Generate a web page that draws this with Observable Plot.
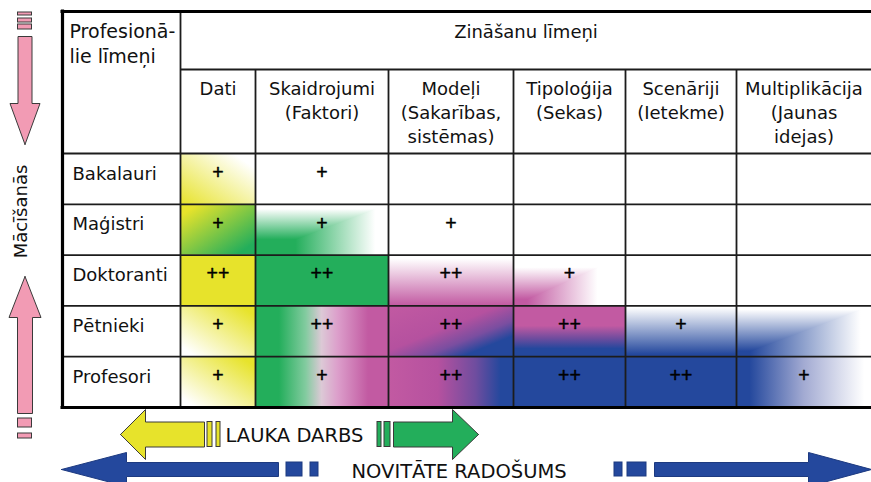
<!DOCTYPE html>
<html>
<head>
<meta charset="utf-8">
<script src="https://cdn.jsdelivr.net/npm/d3@7"></script>
<script src="https://cdn.jsdelivr.net/npm/@observablehq/plot@0.6"></script>
<style>
  html, body { margin: 0; padding: 0; background: #fff; }
  svg { display: block; }
</style>
</head>
<body>
<div id="chart"></div>
<script>
// ---------------- DATA ----------------
const professions = ["Bakalauri", "Maģistri", "Doktoranti", "Pētnieki", "Profesori"];
const knowledgeLevels = [
  ["Dati"],
  ["Skaidrojumi", "(Faktori)"],
  ["Modeļi", "(Sakarības,", "sistēmas)"],
  ["Tipoloģija", "(Sekas)"],
  ["Scenāriji", "(Ietekme)"],
  ["Multiplikācija", "(Jaunas", "idejas)"]
];
// intensity of each knowledge level per professional level
const intensity = [
  ["+",  "+",  "",   "",   "",   ""],
  ["+",  "+",  "+",  "",   "",   ""],
  ["++", "++", "++", "+",  "",   ""],
  ["+",  "++", "++", "++", "+",  ""],
  ["+",  "+",  "++", "++", "++", "+"]
];
// transition shading category of each cell
const transitions = [
  ["yFade", "",      "",       "",     "",      ""],
  ["yg",    "cG",    "",       "",     "",      ""],
  ["Y",     "G",     "mRise",  "cM",   "",      ""],
  ["yRise", "gm",    "mbDiag", "mbV",  "bRise", "cB"],
  ["yRise", "gm",    "mbH",    "B",    "B",     "bH"]
];
const cornerTitle = ["Profesionā-", "lie līmeņi"];
const tableTitle = "Zināšanu līmeņi";
const sideLabel = "Mācīšanās";
const fieldLabel = "LAUKA DARBS";
const noveltyLabel = "NOVITĀTE RADOŠUMS";

// ---------------- STYLE / LAYOUT ----------------
const C = {Y: "#E7E32B", G: "#23AE5B", M: "#C25AA2", B: "#24489D", W: "#FFFFFF", pink: "#F29BB4", line: "#1c1c1c", outline: "#3a3a3a"};
const solid = {Y: C.Y, G: C.G, B: C.B};
const gradients = {
  yFade:  {v: [0, 1, 1, 0], stops: [[0, C.Y], [0.85, C.W]]},
  yg:     {v: [0, 0, 1, 1], stops: [[0.12, C.Y], [0.88, C.G]]},
  mRise:  {v: [0, 0, 0, 1], stops: [[0, C.W], [0.08, C.W], [1, C.M]]},
  yRise:  {v: [0, 1, 1, 0], stops: [[0.1, C.W], [0.9, C.Y]]},
  gm:     {v: [0, 0, 1, 0], stops: [[0, C.G], [0.18, C.G], [0.38, "#82cb9f"], [0.5, "#dcc9d6"], [0.62, "#dc9fcb"], [0.85, C.M], [1, C.M]]},
  mbDiag: {v: [0, 0, 1, 1], stops: [[0, C.M], [0.45, "#b5519f"], [0.65, "#7a4ea0"], [0.8, C.B], [1, C.B]]},
  mbH:    {v: [0, 0, 1, 0], stops: [[0, C.M], [0.4, "#b6519f"], [0.7, "#6f4d9f"], [0.9, C.B], [1, C.B]]},
  mbV:    {v: [0, 0, 0, 1], stops: [[0, C.M], [0.4, C.M], [0.65, "#6e4c9e"], [0.85, C.B], [1, C.B]]},
  bRise:  {v: [0, 0, 0, 1], stops: [[0.04, C.W], [0.96, C.B]]},
  bH:     {v: [0, 0, 1, 0], stops: [[0, C.B], [0.1, C.B], [0.5, "#a2aad2"], [0.95, C.W]]}
};
// rectangular "from bottom-left corner" shading: vertical part + horizontal part
const corners = {
  cG: {color: C.G, stops: [[0, 1], [0.3, 1], [0.9, 0]]},
  cM: {color: C.M, stops: [[0, 1], [0.12, 1], [0.75, 0]]},
  cB: {color: C.B, stops: [[0, 1], [0.1, 1], [0.92, 0]]}
};
for (const [id, c] of Object.entries(corners)) {
  const st = c.stops.map(([o, a]) => [o, d3.interpolateRgb(C.W, c.color)(a)]);
  gradients[id + "V"] = {v: [0, 1, 0, 0], stops: st};
  gradients[id + "H"] = {v: [0, 0, 1, 0], stops: st};
}
const fillOf = code => !code ? C.W : solid[code] ? solid[code] : corners[code] ? `url(#${code}V)` : `url(#${code})`;

const W = 871, H = 482;
const cols = [180, 255, 388, 513, 625, 736, 871];
const T = {left: 62, top: 11, split: 69, body: 153, bottom: 407, right: 871};
const rowH = (T.bottom - T.body) / professions.length;
const rowY = i => T.body + i * rowH;
const colMid = j => (cols[j] + cols[j + 1]) / 2;

const FONT = "DejaVu Sans";

// cells
const cells = [];
professions.forEach((p, i) => knowledgeLevels.forEach((k, j) => {
  cells.push({p, k: k[0], code: transitions[i][j], x1: cols[j], x2: cols[j + 1], y1: rowY(i), y2: rowY(i + 1),
    fill: fillOf(transitions[i][j]), mark: intensity[i][j], cx: colMid(j), cy: rowY(i) + 19});
}));
// lower-right triangles carrying the horizontal part of corner shading
const cornerTris = cells.filter(d => corners[d.code]).flatMap((d, n) =>
  [[d.x1, d.y2], [d.x2, d.y2], [d.x2, d.y1], [d.x1, d.y2]].map(([x, y]) => ({id: n, x, y, fill: `url(#${d.code}H)`})));

// header text lines
const headerLines = knowledgeLevels.flatMap((lines, j) => lines.map((t, k) => ({t, x: colMid(j), y: 94 + k * 24})));
const cornerLines = cornerTitle.map((t, k) => ({t, x: 69, y: 37 + k * 25}));
const rowLabels = professions.map((t, i) => ({t, x: 72, y: rowY(i) + 26}));

// arrow polygons
function hArrow(id, tipX, baseX, endX, cy, hh, sh) {
  return [[tipX, cy], [baseX, cy - hh], [baseX, cy - sh], [endX, cy - sh], [endX, cy + sh], [baseX, cy + sh], [baseX, cy + hh], [tipX, cy]]
    .map(([x, y]) => ({id, x, y}));
}
function vArrow(id, tipY, baseY, endY, cx, hh, sh) {
  return [[tipY, cx], [baseY, cx - hh], [baseY, cx - sh], [endY, cx - sh], [endY, cx + sh], [baseY, cx + sh], [baseY, cx + hh], [tipY, cx]]
    .map(([y, x]) => ({id, x, y}));
}
const pinkArrows = [
  ...vArrow("down", 144, 103, 36, 24.5, 15, 7),
  ...vArrow("up", 276, 317, 413, 24.5, 16, 7.5)
];
const pinkBars = [
  {y1: 12, y2: 15}, {y1: 18, y2: 22}, {y1: 24, y2: 29},
  {y1: 418, y2: 427}, {y1: 433, y2: 438}
].map(d => ({...d, x1: 17.5, x2: 31.5}));

const yellowArrow = hArrow("yl", 120, 145, 204, 434, 25, 12.5);
const greenArrow = hArrow("gr", 478, 452, 393, 434, 25, 12.5);
const yellowBars = [{x1: 207, x2: 212}, {x1: 216, x2: 220}].map(d => ({...d, y1: 421.5, y2: 446.5}));
const greenBars = [{x1: 377, x2: 381}, {x1: 384, x2: 390}].map(d => ({...d, y1: 421.5, y2: 446.5}));

const blueCy = 469;
const blueArrows = [
  ...hArrow("bl", 61, 126, 278, blueCy, 17, 7),
  ...hArrow("br", 871, 808, 654, blueCy, 17, 7)
];
const blueBars = [{x1: 286, x2: 302}, {x1: 310, x2: 318}, {x1: 614, x2: 622}, {x1: 627, x2: 646}]
  .map(d => ({...d, y1: blueCy - 7, y2: blueCy + 7}));

// rules
const innerV = [{x: cols[0], y1: T.top, y2: T.bottom}, ...cols.slice(1, 6).map(x => ({x, y1: T.split, y2: T.bottom}))];
const innerH = [{y: T.split, x1: cols[0], x2: T.right}, ...d3.range(0, professions.length).map(i => ({y: rowY(i), x1: T.left, x2: T.right}))];

const svg = Plot.plot({
  width: W, height: H,
  margin: 0,
  x: {type: "linear", domain: [0, W], range: [0, W], axis: null},
  y: {type: "linear", domain: [0, H], range: [0, H], axis: null},
  color: {type: "identity"},
  style: {background: "#fff", fontFamily: FONT, color: "#111"},
  marks: [
    Plot.rect(cells, {x1: "x1", x2: "x2", y1: "y1", y2: "y2", fill: "fill", inset: 0}),
    Plot.line(cornerTris, {x: "x", y: "y", z: "id", fill: "fill", stroke: "none", curve: "linear"}),
    Plot.ruleX(innerV, {x: "x", y1: "y1", y2: "y2", stroke: C.line, strokeWidth: 1.8}),
    Plot.ruleY(innerH, {y: "y", x1: "x1", x2: "x2", stroke: C.line, strokeWidth: 1.8}),
    Plot.ruleY([{y: T.top}, {y: T.bottom}], {y: "y", x1: T.left - 1.5, x2: T.right, stroke: "#000", strokeWidth: 3.2}),
    Plot.ruleX([{x: T.left}], {x: "x", y1: T.top - 1.5, y2: T.bottom + 1.5, stroke: "#000", strokeWidth: 3.2}),
    // texts
    Plot.text(cornerLines, {x: "x", y: "y", text: "t", textAnchor: "start", lineAnchor: "bottom", fontSize: 19, fill: "#111"}),
    Plot.text([tableTitle], {x: (cols[0] + T.right) / 2, y: 37, text: d => d, lineAnchor: "bottom", fontSize: 18, fill: "#111"}),
    Plot.text(headerLines, {x: "x", y: "y", text: "t", lineAnchor: "bottom", fontSize: 18, fill: "#111"}),
    Plot.text(rowLabels, {x: "x", y: "y", text: "t", textAnchor: "start", lineAnchor: "bottom", fontSize: 18, fill: "#111"}),
    Plot.text(cells.filter(d => d.mark), {x: "cx", y: "cy", text: "mark", fontSize: 19.5, fontFamily: "Liberation Sans", fill: "#000", stroke: "#000", strokeWidth: 0.45}),
    // side arrows
    Plot.line(pinkArrows, {x: "x", y: "y", z: "id", fill: C.pink, stroke: C.outline, strokeWidth: 1, curve: "linear"}),
    Plot.rect(pinkBars, {x1: "x1", x2: "x2", y1: "y1", y2: "y2", fill: C.pink, stroke: C.outline, strokeWidth: 1}),
    Plot.text([sideLabel], {x: 21, y: 211, text: d => d, rotate: -90, fontSize: 18, fill: "#111"}),
    // bottom arrows
    Plot.line(yellowArrow, {x: "x", y: "y", z: "id", fill: C.Y, stroke: C.outline, strokeWidth: 1, curve: "linear"}),
    Plot.rect(yellowBars, {x1: "x1", x2: "x2", y1: "y1", y2: "y2", fill: C.Y, stroke: C.outline, strokeWidth: 1}),
    Plot.line(greenArrow, {x: "x", y: "y", z: "id", fill: C.G, stroke: C.outline, strokeWidth: 1, curve: "linear"}),
    Plot.rect(greenBars, {x1: "x1", x2: "x2", y1: "y1", y2: "y2", fill: C.G, stroke: C.outline, strokeWidth: 1}),
    Plot.text([fieldLabel], {x: 225, y: 441, text: d => d, textAnchor: "start", lineAnchor: "bottom", fontSize: 19.5, fill: "#111"}),
    Plot.line(blueArrows, {x: "x", y: "y", z: "id", fill: C.B, stroke: "#1d3a80", strokeWidth: 1, curve: "linear"}),
    Plot.rect(blueBars, {x1: "x1", x2: "x2", y1: "y1", y2: "y2", fill: C.B, stroke: "#1d3a80", strokeWidth: 1}),
    Plot.text([noveltyLabel], {x: 351, y: 477, text: d => d, textAnchor: "start", lineAnchor: "bottom", fontSize: 19.5, fill: "#111"})
  ]
});

// gradient definitions for the transition shading
const defs = d3.select(svg).insert("defs", ":first-child");
for (const [id, g] of Object.entries(gradients)) {
  const lg = defs.append("linearGradient").attr("id", id)
    .attr("x1", g.v[0]).attr("y1", g.v[1]).attr("x2", g.v[2]).attr("y2", g.v[3]);
  for (const [o, c] of g.stops) lg.append("stop").attr("offset", o).attr("stop-color", c);
}

document.getElementById("chart").append(svg);
</script>
</body>
</html>
